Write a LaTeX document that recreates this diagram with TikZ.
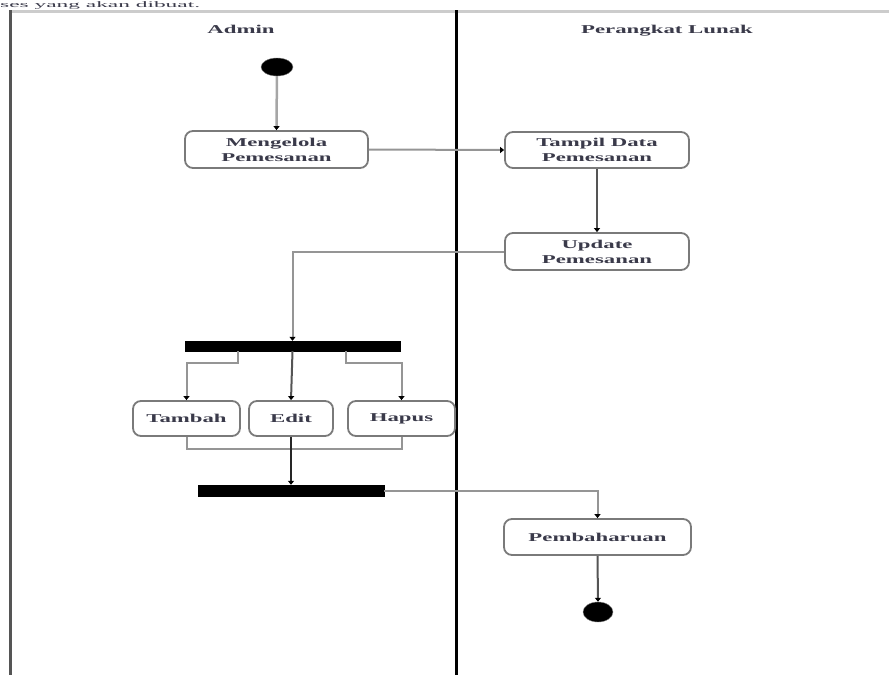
\documentclass[tikz,border=0pt]{standalone}
\usepackage{fontspec}
\setmainfont{Liberation Serif}
\newfontfamily\wideserif[FakeStretch=1.9]{Liberation Serif}
\usetikzlibrary{arrows.meta,shapes.geometric}
\definecolor{boxgray}{HTML}{7A7A7A}
\definecolor{linegray}{HTML}{959595}
\definecolor{lanegray}{HTML}{555555}
\definecolor{txt}{HTML}{3A3A4A}
\begin{document}
\begin{tikzpicture}[x=1pt,y=-1pt,
  lbl/.style={font=\wideserif\bfseries\fontsize{12}{15}\selectfont, text=txt},
  act/.style={lbl, draw=boxgray, line width=1.8pt, rounded corners=8pt, align=center, inner sep=0pt},
  bar/.style={fill=black, draw=black, inner sep=0pt},
  dot/.style={fill=black, draw=gray, ellipse, inner sep=0pt},
  conn/.style={draw=linegray, line width=2pt},
  arr/.style={conn, -{Triangle[width=6pt,length=4pt,color=black]}}
]
\useasboundingbox (0,0) rectangle (889,675);
% caption
\node[anchor=base west, inner sep=0pt, text=txt] (cap) at (0,7.5) {\scalebox{2.75}[1]{\fontsize{8.5}{9}\selectfont ses yang akan dibuat.}};
% swimlanes
\draw[gray!40, line width=3pt] (9,11.5) -- (889,11.5);
\draw[lanegray, line width=2.5pt] (10.5,10) -- (10.5,675);
\draw[black, line width=2.2pt] (456.5,10) -- (456.5,675);
\node[lbl] (admin) at (241,29) {Admin};
\node[lbl] (perangkat) at (667,31) {Perangkat Lunak};
% nodes
\node[dot, minimum width=32pt, minimum height=18pt] (start) at (277,67) {};
\node[act, minimum width=183pt, minimum height=37pt] (mengelola) at (276.5,149.5) {Mengelola\\Pemesanan};
\node[act, minimum width=184pt, minimum height=36pt] (tampil) at (597,150) {Tampil Data\\Pemesanan};
\node[act, minimum width=184pt, minimum height=37pt] (update) at (597,251.5) {Update\\Pemesanan};
\node[bar, minimum width=215pt, minimum height=10pt] (bar1) at (292.5,346) {};
\node[act, minimum width=107pt, minimum height=35pt] (tambah) at (186.5,418.5) {Tambah};
\node[act, minimum width=84pt, minimum height=35pt] (edit) at (291,418.5) {Edit};
\node[act, minimum width=107pt, minimum height=35pt] (hapus) at (401.5,418.5) {Hapus};
\node[bar, minimum width=186pt, minimum height=11pt] (bar2) at (291,490.5) {};
\node[act, minimum width=187pt, minimum height=36pt] (pemb) at (597.5,537) {Pembaharuan};
\node[dot, minimum width=30pt, minimum height=20pt] (end) at (598,612) {};
% connectors
\draw[arr, draw=gray!70, line width=2.5pt] (start) -- (mengelola.north);
\draw[arr] (mengelola.east) -- (tampil.west);
\draw[arr, draw=lanegray] (tampil.south) -- (update.north);
\draw[arr] (update.west) -| (bar1.north);
\draw[arr] ([xshift=-55pt]bar1.south) -- ++(0,12) -| (tambah.north);
\draw[arr, draw=lanegray] (bar1.south) -- (edit.north);
\draw[arr] ([xshift=53pt]bar1.south) -- ++(0,12) -| (hapus.north);
\draw[conn] (tambah.south) -- ++(0,12) -| (hapus.south);
\draw[arr, draw=black!85] (edit.south) -- (bar2.north);
\draw[arr] (bar2.east) -| (pemb.north);
\draw[arr, draw=lanegray] (pemb.south) -- (end.north);
\end{tikzpicture}
\end{document}
